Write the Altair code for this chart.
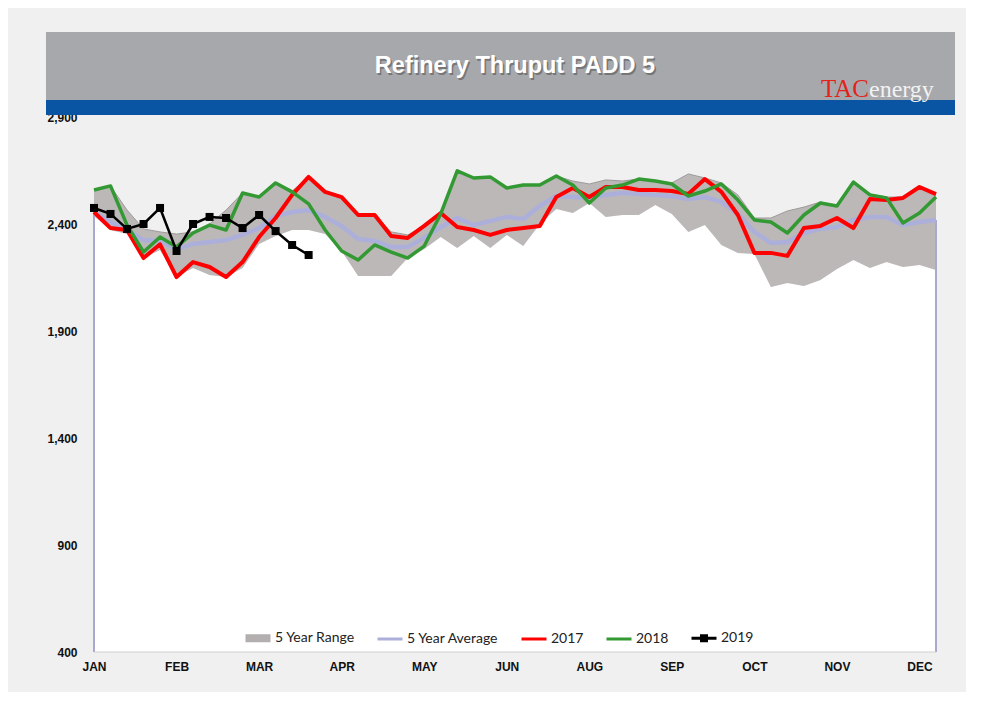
import altair as alt
import pandas as pd

# ---------------- data ----------------
weeks = list(range(52))
month_ticks = [0, 5, 10, 15, 20, 25, 30, 35, 40, 45, 50]
month_labels = ["JAN", "FEB", "MAR", "APR", "MAY", "JUN", "AUG", "SEP", "OCT", "NOV", "DEC"]
y_ticks = [400, 900, 1400, 1900, 2400, 2900]

range_low = [2437, 2372, 2353, 2241, 2279, 2152, 2194, 2162, 2152, 2194,
             2307, 2344, 2372, 2372, 2353, 2274, 2157, 2157, 2157, 2241,
             2283, 2339, 2288, 2344, 2288, 2349, 2297, 2400, 2470, 2451,
             2498, 2433, 2442, 2442, 2489, 2447, 2363, 2395, 2302, 2265,
             2260, 2106, 2124, 2110, 2138, 2190, 2232, 2194, 2222, 2199,
             2208, 2185]
range_high = [2559, 2578, 2465, 2377, 2363, 2353, 2363, 2400, 2465, 2545,
              2526, 2592, 2554, 2620, 2550, 2526, 2442, 2442, 2363, 2349,
              2391, 2451, 2648, 2615, 2620, 2573, 2582, 2582, 2624, 2601,
              2587, 2606, 2601, 2610, 2601, 2592, 2634, 2615, 2592, 2536,
              2428, 2428, 2461, 2479, 2503, 2484, 2596, 2540, 2526, 2526,
              2573, 2545]
avg5 = [2456, 2409, 2372, 2325, 2321, 2283, 2307, 2316, 2325, 2349,
        2381, 2437, 2456, 2465, 2433, 2391, 2330, 2321, 2293, 2293,
        2335, 2386, 2428, 2395, 2414, 2433, 2423, 2484, 2531, 2526,
        2522, 2536, 2545, 2540, 2536, 2531, 2517, 2526, 2503, 2447,
        2363, 2311, 2316, 2358, 2377, 2386, 2419, 2433, 2433, 2395,
        2409, 2419]
y2017 = [2456, 2381, 2372, 2241, 2305, 2152, 2222, 2199, 2152, 2222,
         2339, 2428, 2536, 2620, 2550, 2526, 2442, 2442, 2344, 2335,
         2391, 2451, 2386, 2372, 2349, 2372, 2381, 2391, 2526, 2568,
         2526, 2573, 2573, 2559, 2559, 2554, 2540, 2610, 2550, 2442,
         2265, 2265, 2251, 2381, 2391, 2428, 2381, 2517, 2512, 2522,
         2573, 2540]
y2018 = [2559, 2578, 2395, 2269, 2339, 2293, 2358, 2395, 2372, 2545,
         2526, 2592, 2550, 2494, 2372, 2274, 2232, 2302, 2269, 2241,
         2297, 2447, 2648, 2615, 2620, 2568, 2582, 2582, 2624, 2582,
         2498, 2568, 2582, 2610, 2601, 2587, 2531, 2554, 2587, 2512,
         2419, 2409, 2358, 2442, 2498, 2484, 2596, 2536, 2522, 2405,
         2451, 2526]
y2019 = [2475, 2447, 2377, 2400, 2475, 2274, 2400, 2433, 2428, 2381,
         2442, 2367, 2302, 2255]

series_domain = ["5 Year Range", "5 Year Average", "2017", "2018", "2019"]
series_colors = ["#b3afaf", "#adafdb", "#ff0000", "#339933", "#000000"]
# legend glyphs (stroked paths): a solid swatch, plain strokes, stroke with a square marker
series_symbols = ["M-1,-0.2H1M-1,-0.07H1M-1,0.07H1M-1,0.2H1", "stroke", "stroke", "stroke",
                  "M-1,0H1M-0.2,-0.2H0.2V0.2H-0.2Z"]

title_text = "Refinery Thruput PADD 5"
logo_a = "TAC"
logo_b = "energy"

# ---------------- tables ----------------
band = pd.DataFrame({"week": weeks, "low": range_low, "high": range_high, "avg": avg5})
rows = []
for name, vals in [("5 Year Average", avg5), ("2017", y2017), ("2018", y2018), ("2019", y2019)]:
    for w, v in zip(weeks, vals):
        rows.append({"week": w, "value": v, "series": name})
lines = pd.DataFrame(rows)
one = pd.DataFrame({"k": [0]})

# ---------------- scales / axes ----------------
label_expr = "[" + ",".join("'%s'" % m for m in month_labels) + "][round(datum.value / 5)]"
x_scale = alt.Scale(domain=[0, 51], nice=False, zero=False)
y_scale = alt.Scale(domain=[400, 2900], nice=False, zero=False)
x_axis = alt.Axis(values=month_ticks, labelExpr=label_expr, ticks=False, domain=False,
                  grid=False, labelFlush=False, labelPadding=9, labelFont="Liberation Sans",
                  labelFontWeight="bold", labelFontSize=12, labelColor="#111111", title=None)
y_axis = alt.Axis(values=y_ticks, format=",d", ticks=False, domain=False, grid=False,
                  labelPadding=17, labelFont="Liberation Sans", labelFontWeight="bold",
                  labelFontSize=12, labelColor="#111111", title=None)


def X(field):
    return alt.X(field, scale=x_scale, axis=x_axis, title=None)


def Y(field):
    return alt.Y(field, scale=y_scale, axis=y_axis, title=None)


color_scale = alt.Scale(domain=series_domain, range=series_colors)
shape_scale = alt.Scale(domain=series_domain, range=series_symbols)
legend = alt.Legend(
    title=None, orient="none", legendX=150, legendY=507, direction="horizontal",
    symbolSize=625, symbolStrokeWidth=3, labelFont="Lato",
    labelFontSize=14, labelColor="#222222", labelOffset=3, columnPadding=16,
)

# ---------------- layers ----------------
white_area = alt.Chart(band).mark_area(color="white", opacity=1).encode(
    x=X("week:Q"), y=Y("low:Q"), y2=alt.datum(400),
)

gray_area = alt.Chart(band).mark_area(color="#bcb8b8", opacity=1).encode(
    x=X("week:Q"), y=Y("high:Q"), y2="low:Q",
)

upper_edge = alt.Chart(band).mark_line(color="#9e9a9a", strokeWidth=1).encode(
    x=X("week:Q"), y=Y("high:Q"),
)

edge_rules = alt.Chart(band).transform_filter("datum.week == 0 || datum.week == 51").mark_rule(
    color="#a9a9cf", strokeWidth=2
).encode(x=X("week:Q"), y=Y("avg:Q"), y2=alt.datum(400))

bottom_rule = alt.Chart(band).transform_filter("datum.week == 0").mark_rule(
    color="#cfcfcf", strokeWidth=1
).encode(x=X("week:Q"), x2=alt.datum(51), y=alt.datum(400))


def series_line(name, width):
    col = series_colors[series_domain.index(name)]
    return alt.Chart(lines).transform_filter(alt.datum.series == name).mark_line(
        strokeWidth=width, strokeJoin="round", color=col
    ).encode(x=X("week:Q"), y=Y("value:Q"))


avg_line = series_line("5 Year Average", 4.5)
line17 = series_line("2017", 4)
line18 = series_line("2018", 3.5)
line19 = series_line("2019", 2.5)

pts19 = alt.Chart(lines).transform_filter(alt.datum.series == "2019").mark_point(
    shape="square", filled=True, size=64, color="#000000", opacity=1
).encode(x=X("week:Q"), y=Y("value:Q"))

# invisible layer that carries the legend
legend_layer = alt.Chart(lines).mark_point(opacity=0).encode(
    x=X("week:Q"),
    y=Y("value:Q"),
    color=alt.Color("series:N", scale=color_scale, legend=legend),
    shape=alt.Shape("series:N", scale=shape_scale, legend=legend),
)

# ---------------- header decoration ----------------
header_gray = alt.Chart(one).mark_rect(color="#a7a8ac").encode(
    x=alt.value(-48), x2=alt.value(861), y=alt.value(-85), y2=alt.value(-17)
)
header_blue = alt.Chart(one).mark_rect(color="#0a55a3").encode(
    x=alt.value(-48), x2=alt.value(861), y=alt.value(-17), y2=alt.value(-2)
)
title_shadow = alt.Chart(one).mark_text(
    text=title_text, font="Liberation Sans", fontWeight="bold", fontSize=23.5,
    color="#6a6a6a", align="center", baseline="middle", dx=1.5, dy=1.5, opacity=0.8
).encode(x=alt.value(421), y=alt.value(-51))
title_main = alt.Chart(one).mark_text(
    text=title_text, font="Liberation Sans", fontWeight="bold", fontSize=23.5,
    color="#ffffff", align="center", baseline="middle"
).encode(x=alt.value(421), y=alt.value(-51))
logo1 = alt.Chart(one).mark_text(
    text=logo_a, font="Liberation Serif", fontSize=25, color="#e2231a",
    align="left", baseline="alphabetic"
).encode(x=alt.value(727), y=alt.value(-20))
logo2 = alt.Chart(one).mark_text(
    text=logo_b, font="Liberation Serif", fontSize=24, color="#f2f2f2",
    align="left", baseline="alphabetic"
).encode(x=alt.value(775), y=alt.value(-20))

chart = alt.layer(
    white_area, gray_area, upper_edge, edge_rules, bottom_rule,
    avg_line, line17, line18, line19, pts19, legend_layer,
    header_gray, header_blue, title_shadow, title_main, logo1, logo2,
).properties(
    width=842, height=535,
    padding={"left": 86, "top": 109, "right": 30, "bottom": 40},
    autosize=alt.AutoSizeParams(type="none"),
    background="#f0f0f0",
).configure_view(stroke=None)

chart.save("out.html", embed_options={"renderer": "svg", "actions": False})
